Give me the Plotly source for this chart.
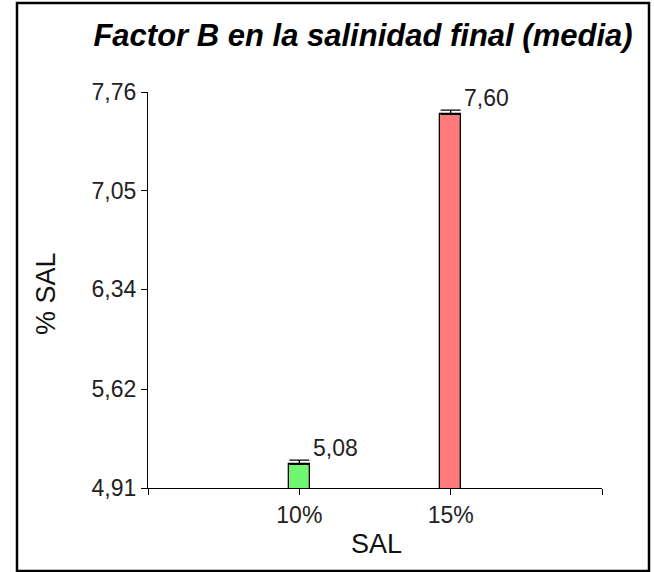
import plotly.graph_objects as go

# ---- data ----
categories = ["10%", "15%"]
cat_positions = [1, 2]
means = [5.08, 7.60]
errors_up = [0.03, 0.03]
value_labels = ["5,08", "7,60"]
bar_colors = ["#70F570", "#FF7A7A"]
y_tickvals = [4.91, 5.62, 6.34, 7.05, 7.76]
y_ticktext = ["4,91", "5,62", "6,34", "7,05", "7,76"]
x_tickvals = [0, 1, 2, 3]
x_ticktext = ["", "10%", "15%", ""]

W, H = 654, 572
L, R, T, B = 148, 52, 92, 84
FONT = "Liberation Sans, Arial, sans-serif"

fig = go.Figure()
fig.add_trace(go.Bar(
    x=cat_positions, y=means, width=0.14,
    marker=dict(color=bar_colors, line=dict(color="black", width=1.3)),
    error_y=dict(type="data", array=errors_up, arrayminus=[0] * len(errors_up),
                 symmetric=False, color="black", thickness=1.3, width=10),
    showlegend=False, hoverinfo="skip",
))

for xp, m, e, lab in zip(cat_positions, means, errors_up, value_labels):
    fig.add_annotation(x=xp + 0.07, y=m + e, text=lab, showarrow=False,
                       xanchor="left", yanchor="bottom", xshift=1, yshift=-3,
                       font=dict(family=FONT, size=23, color="#222222"))

pw = W - L - R
ph = H - T - B
def px_x(p):
    return (p - L) / pw
def px_y(p):
    return 1 - (p - T) / ph

# outer border
fig.add_shape(type="rect", xref="paper", yref="paper",
              x0=px_x(17), x1=px_x(649), y0=px_y(571), y1=px_y(3),
              line=dict(color="black", width=2.5), fillcolor="rgba(0,0,0,0)")

# axis titles as annotations
fig.add_annotation(xref="paper", yref="paper", x=px_x(376), y=px_y(544),
                   text="SAL", showarrow=False, xanchor="center", yanchor="middle",
                   font=dict(family=FONT, size=27, color="#111111"))
fig.add_annotation(xref="paper", yref="paper", x=px_x(46), y=px_y(294),
                   text="% SAL", showarrow=False, textangle=-90,
                   xanchor="center", yanchor="middle",
                   font=dict(family=FONT, size=27, color="#111111"))

fig.update_layout(
    width=W, height=H,
    margin=dict(l=L, r=R, t=T, b=B, pad=0),
    paper_bgcolor="white", plot_bgcolor="white",
    title=dict(text="<b><i>Factor B en la salinidad final (media)</i></b>",
               x=363 / W, y=1 - 35 / H, xanchor="center", yanchor="middle",
               font=dict(family=FONT, size=31, color="black")),
    xaxis=dict(range=[0, 3], tickvals=x_tickvals, ticktext=x_ticktext,
               showline=True, linecolor="black", linewidth=1.3,
               ticks="outside", ticklen=6, tickwidth=1.3, tickcolor="black",
               showgrid=False, zeroline=False,
               tickfont=dict(family=FONT, size=23, color="#222222")),
    yaxis=dict(range=[4.91, 7.76], tickvals=y_tickvals, ticktext=y_ticktext,
               showline=True, linecolor="black", linewidth=1.3,
               ticks="outside", ticklen=6, tickwidth=1.3, tickcolor="black",
               showgrid=False, zeroline=False,
               tickfont=dict(family=FONT, size=23, color="#222222")),
    bargap=0,
)

fig.write_html("out.html", config={"displayModeBar": False},
               post_script="document.body.style.margin='0';document.body.style.padding='0';")
